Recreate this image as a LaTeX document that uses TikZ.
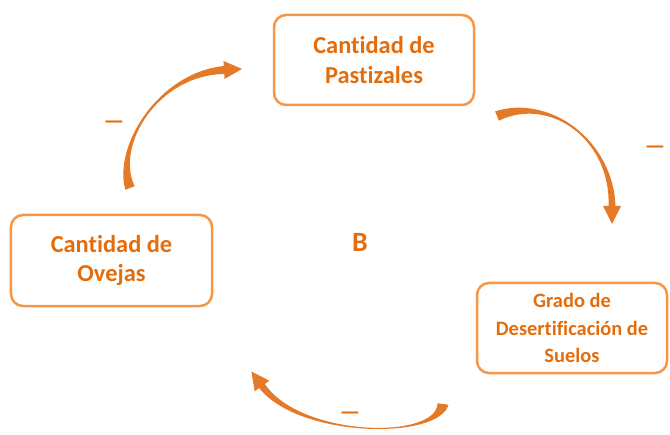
\documentclass[tikz,border=0pt]{standalone}
\usepackage{fontspec}
\setmainfont{Carlito}[Ligatures=NoCommon]
\usetikzlibrary{calc}
\definecolor{boxline}{RGB}{247,150,70}
\definecolor{txtor}{RGB}{228,108,10}
\definecolor{arrowor}{RGB}{228,122,40}
\newcommand\taperarrow[9]{%
  \coordinate (P0) at (#1); \coordinate (P1) at (#2);
  \coordinate (P2) at (#3); \coordinate (P3) at (#4);
  \coordinate (o0) at ($(P0)!#5!90:(P1)$);
  \coordinate (i0) at ($(P0)!#5!-90:(P1)$);
  \coordinate (o1) at ($(P1)!#6!-90:(P0)$);
  \coordinate (i1) at ($(P1)!#6!90:(P0)$);
  \coordinate (o2) at ($(P2)!#6!90:(P3)$);
  \coordinate (i2) at ($(P2)!#6!-90:(P3)$);
  \coordinate (o3) at ($(P3)!#7!-90:(P2)$);
  \coordinate (i3) at ($(P3)!#7!90:(P2)$);
  \coordinate (ho) at ($(P3)!#8!-90:(P2)$);
  \coordinate (hi) at ($(P3)!#8!90:(P2)$);
  \coordinate (tip) at ($(P3)!-#9!(P2)$);
  \fill[arrowor] (o0) .. controls (o1) and (o2) .. (o3) -- (ho) -- (tip) -- (hi) -- (i3) .. controls (i2) and (i1) .. (i0) -- cycle;
}
\tikzset{
  varbox/.style={draw=boxline, line width=2.5bp, rounded corners=12bp, align=center, text=txtor, font=\bfseries\fontsize{24.5}{30}\selectfont, inner sep=0pt},
  signlbl/.style={text=txtor, font=\bfseries\fontsize{23}{23}\selectfont, inner sep=0pt},
}
\begin{document}
\begin{tikzpicture}[x=1bp,y=-1bp]
\useasboundingbox (0,0) rectangle (670,435);
\node[varbox, minimum width=200bp, minimum height=90bp] (past) at (374,60) {Cantidad de\\Pastizales};
\node[varbox, minimum width=201bp, minimum height=91bp] (ovej) at (111.5,260.5) {Cantidad de\\Ovejas};
\node[varbox, minimum width=190bp, minimum height=90bp, font=\bfseries\fontsize{20.5}{27.5}\selectfont] (suel) at (572,328) {Grado de\\Desertificación de\\Suelos};
\node[text=txtor, font=\bfseries\fontsize{28}{28}\selectfont] (b) at (360,242) {B};
\taperarrow{130,188}{114,146}{158,74}{224,70}{5bp}{1bp}{4bp}{9bp}{18bp}
\taperarrow{497,116}{550,95}{612,140}{612,206}{5bp}{1bp}{3.5bp}{9bp}{18bp}
\taperarrow{443,404}{438,440}{300,438}{262,386}{5.5bp}{1bp}{3.5bp}{9bp}{18bp}
\node[signlbl] (s1) at (114,125) {—};
\node[signlbl] (s2) at (655,150) {—};
\node[signlbl] (s3) at (350,416) {—};
\end{tikzpicture}
\end{document}
